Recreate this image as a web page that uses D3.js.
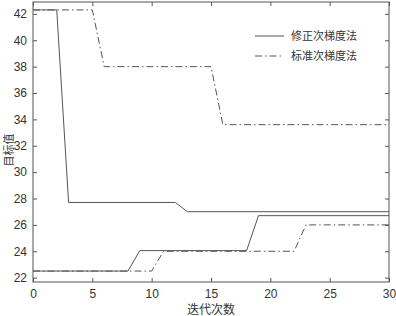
<!DOCTYPE html>
<html>
<head>
<meta charset="utf-8">
<script src="https://cdn.jsdelivr.net/npm/d3@7"></script>
<style>
  body { margin: 0; background: #fff; }
  svg { display: block; }
</style>
</head>
<body>
<script>
// chart data
var seriesNames = ['修正次梯度法', '标准次梯度法'];

// step lines: [iteration, value] breakpoints
var modUpper = [[0, 42.3], [2, 42.3], [3, 27.7], [12, 27.7], [13, 27.0], [30, 27.0]];
var modLower = [[0, 22.5], [8, 22.5], [9, 24.05], [18, 24.05], [19, 26.7], [30, 26.7]];
var stdUpper = [[0, 42.3], [5, 42.3], [6, 38.0], [15, 38.0], [16, 33.6], [30, 33.6]];
var stdLower = [[0, 22.5], [10, 22.5], [11, 24.0], [22, 24.0], [23, 26.0], [30, 26.0]];

var xTicks = [0, 5, 10, 15, 20, 25, 30];
var yTicks = [22, 24, 26, 28, 30, 32, 34, 36, 38, 40, 42];

var width = 396, height = 316;
var margin = { left: 33, right: 7, top: 2, bottom: 34 };
var iw = width - margin.left - margin.right,
    ih = height - margin.top - margin.bottom;

var x = d3.scaleLinear().domain([0, 30]).range([0, iw]);
var y = d3.scaleLinear().domain([21.67, 42.9]).range([ih, 0]);

var svg = d3.select('body').append('svg')
    .attr('width', width)
    .attr('height', height);

var g = svg.append('g')
    .attr('transform', 'translate(' + margin.left + ',' + margin.top + ')');

var axisColor = '#555';
var tickFont = '"Liberation Sans", Arial, sans-serif';
var cjkFont = '"Noto Sans CJK SC", sans-serif';

// ticks drawn inward on all four sides
function styleAxis(sel) {
  sel.select('.domain').remove();
  sel.selectAll('line').attr('stroke', axisColor);
  sel.selectAll('text')
      .attr('fill', '#333')
      .style('font-family', tickFont)
      .style('font-size', '12px');
}

g.append('g')
    .attr('transform', 'translate(0,' + ih + ')')
    .call(d3.axisBottom(x).tickValues(xTicks).tickSizeInner(-4).tickSizeOuter(0).tickPadding(7))
    .call(styleAxis);

g.append('g')
    .call(d3.axisTop(x).tickValues(xTicks).tickSizeInner(-4).tickSizeOuter(0).tickFormat(''))
    .call(styleAxis);

g.append('g')
    .call(d3.axisLeft(y).tickValues(yTicks).tickSizeInner(-4).tickSizeOuter(0).tickPadding(6))
    .call(styleAxis);

g.append('g')
    .attr('transform', 'translate(' + iw + ',0)')
    .call(d3.axisRight(y).tickValues(yTicks).tickSizeInner(-4).tickSizeOuter(0).tickFormat(''))
    .call(styleAxis);

// box
g.append('rect')
    .attr('width', iw)
    .attr('height', ih)
    .attr('fill', 'none')
    .attr('stroke', axisColor)
    .attr('stroke-width', 1);

var line = d3.line()
    .x(function(d) { return x(d[0]); })
    .y(function(d) { return y(d[1]); });

var lineColor = '#555';
var dashDot = '7,3,1.5,3';

var plot = g.append('g');
[modUpper, modLower].forEach(function(s) {
  plot.append('path').datum(s)
      .attr('d', line)
      .attr('fill', 'none')
      .attr('stroke', lineColor)
      .attr('stroke-width', 1);
});
[stdUpper, stdLower].forEach(function(s) {
  plot.append('path').datum(s)
      .attr('d', line)
      .attr('fill', 'none')
      .attr('stroke', lineColor)
      .attr('stroke-width', 1)
      .attr('stroke-dasharray', dashDot);
});

// legend, no box
var legend = svg.append('g');
seriesNames.forEach(function(name, i) {
  var ly = 36 + i * 20;
  legend.append('line')
      .attr('x1', 255).attr('x2', 284)
      .attr('y1', ly).attr('y2', ly)
      .attr('stroke', lineColor)
      .attr('stroke-width', 1)
      .attr('stroke-dasharray', i === 1 ? dashDot : null);
  legend.append('text')
      .attr('x', 291).attr('y', ly)
      .attr('dy', '0.35em')
      .attr('fill', '#333')
      .style('font-family', cjkFont)
      .style('font-size', '11px')
      .text(name);
});

// axis titles
svg.append('text')
    .attr('x', margin.left + iw / 2)
    .attr('y', 314)
    .attr('text-anchor', 'middle')
    .attr('fill', '#333')
    .style('font-family', cjkFont)
    .style('font-size', '12px')
    .text('迭代次数');

svg.append('text')
    .attr('transform', 'translate(13,150) rotate(-90)')
    .attr('text-anchor', 'middle')
    .attr('fill', '#333')
    .style('font-family', cjkFont)
    .style('font-size', '11px')
    .text('目标值');
</script>
</body>
</html>
